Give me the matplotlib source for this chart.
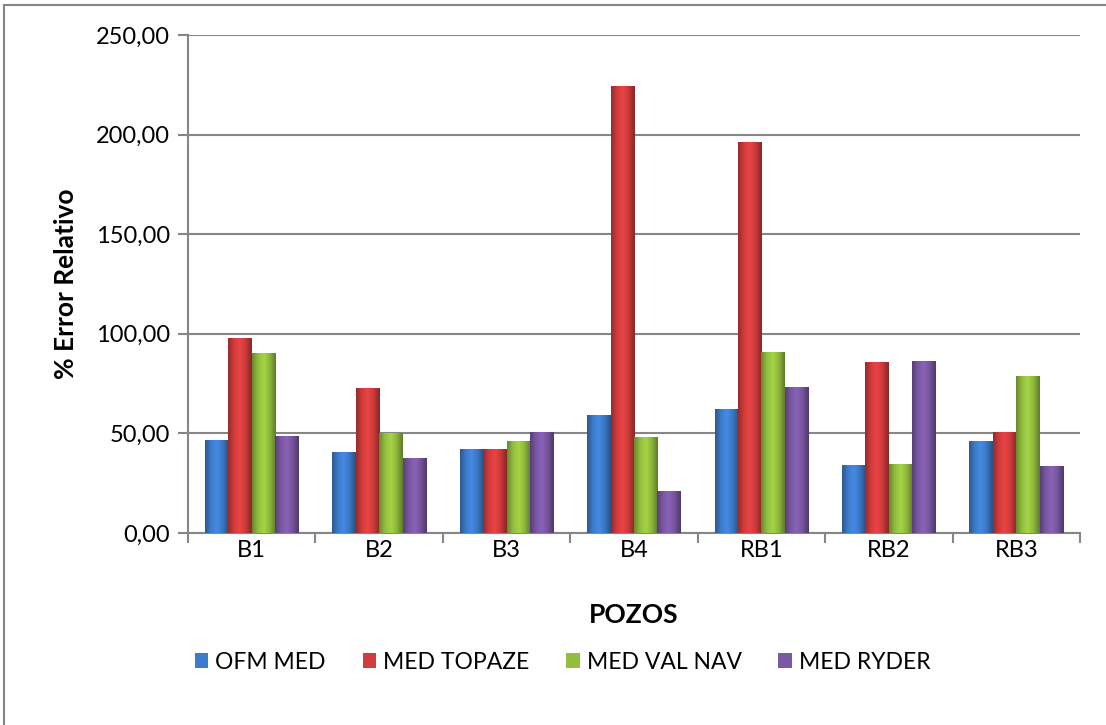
import matplotlib
matplotlib.use('Agg')
import matplotlib.pyplot as plt
import numpy as np
from matplotlib.colors import LinearSegmentedColormap, to_rgb
from matplotlib.lines import Line2D
from matplotlib.ticker import FuncFormatter, FixedLocator

# datos
pozos = ['B1', 'B2', 'B3', 'B4', 'RB1', 'RB2', 'RB3']
ofm_med = [46.7, 40.5, 42.1, 59.3, 62.5, 34.2, 46.4]
med_topaze = [97.8, 72.7, 42.2, 224.6, 196.5, 85.8, 50.9]
med_val_nav = [90.3, 50.4, 46.4, 48.1, 91.0, 34.7, 78.9]
med_ryder = [48.9, 37.5, 50.9, 21.3, 73.2, 86.4, 33.8]

series = [
    ('OFM MED', ofm_med, '#3D7CCB'),
    ('MED TOPAZE', med_topaze, '#D23C3C'),
    ('MED VAL NAV', med_val_nav, '#93BE3E'),
    ('MED RYDER', med_ryder, '#7A58A4'),
]

plt.rcParams['font.family'] = ['Lato', 'DejaVu Sans']
grey = '#868686'

fig = plt.figure(figsize=(11.06, 7.25), dpi=100)
ax = fig.add_axes([0.170, 0.2648, 0.8065, 0.6869])

x = np.arange(len(pozos))
w = 0.184
for i, (name, vals, col) in enumerate(series):
    off = (i - 1.5) * w
    bars = ax.bar(x + off, vals, w, color=col, edgecolor='none', zorder=3)
    c = np.array(to_rgb(col))
    cmap = LinearSegmentedColormap.from_list(
        name, [c * 0.72, c * 1.0, np.minimum(c * 1.12, 1), c * 0.95, c * 0.65])
    grad = np.linspace(0, 1, 64).reshape(1, -1)
    for b in bars:
        bx, by = b.get_x(), b.get_y()
        im = ax.imshow(grad, cmap=cmap, aspect='auto', zorder=3.5,
                       extent=(bx, bx + b.get_width(), by, by + b.get_height()))
        im.set_clip_path(b)

ax.set_xlim(-0.5, len(pozos) - 0.5)
ax.set_ylim(0, 250)
ax.set_yticks(np.arange(0, 251, 50))
ax.yaxis.set_major_formatter(FuncFormatter(lambda v, p: f'{v:.2f}'.replace('.', ',')))
ax.grid(axis='y', color=grey, linewidth=1.5, zorder=0)

ax.set_xticks(x)
ax.set_xticklabels(pozos)
ax.xaxis.set_minor_locator(FixedLocator(np.arange(-0.5, len(pozos), 1.0)))
ax.tick_params(axis='x', which='major', length=0, pad=5, labelsize=17)
ax.tick_params(axis='x', which='minor', length=7, width=1.5, color=grey, direction='out')
ax.tick_params(axis='y', length=7, width=1.5, color=grey, pad=6, labelsize=17)

for s in ['top', 'right']:
    ax.spines[s].set_visible(False)
for s in ['left', 'bottom']:
    ax.spines[s].set_color(grey)
    ax.spines[s].set_linewidth(1.5)

ax.set_xlabel('POZOS', fontsize=19, fontweight='bold', labelpad=30)
ax.set_ylabel('% Error Relativo', fontsize=19, fontweight='bold', labelpad=13)

ax.legend([b for b in ax.containers], [s[0] for s in series],
          loc='center', bbox_to_anchor=(0.42, -0.259), ncol=4,
          frameon=False, fontsize=16.5, handlelength=0.6, handleheight=0.6,
          handletextpad=0.3, columnspacing=1.6)

# borde exterior del grafico
fig.add_artist(Line2D([4 / 1106, 4 / 1106], [0, 1 - 5 / 725], color=grey, lw=1.5))
fig.add_artist(Line2D([4 / 1106, 1], [1 - 5 / 725, 1 - 5 / 725], color=grey, lw=1.5))

fig.savefig('out.png', dpi=100)
